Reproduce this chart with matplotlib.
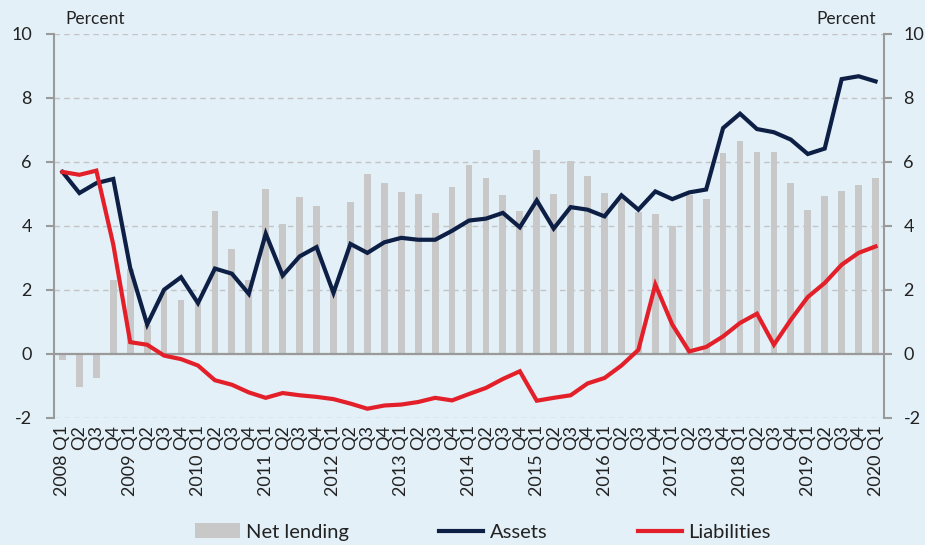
import matplotlib
matplotlib.use("Agg")
import matplotlib.pyplot as plt
import numpy as np

plt.rcParams['font.family'] = ['Lato', 'DejaVu Sans']

years = list(range(2008, 2021))
quarters = ["Q1", "Q2", "Q3", "Q4"]
labels = []
for y in years:
    for q in quarters:
        labels.append(f"{y} {q}" if q == "Q1" else q)
labels = labels[:49]

net_lending = [-0.18, -1.03, -0.74, 2.32, 2.67, 0.9, 1.96, 1.70, 1.6, 4.48,
               3.29, 2.32, 5.16, 4.07, 4.92, 4.64, 2.0, 4.75, 5.62, 5.34,
               5.05, 5.0, 4.41, 5.23, 5.91, 5.49, 4.96, 4.47, 6.36, 5.01,
               6.03, 5.57, 5.04, 4.9, 4.43, 4.39, 3.99, 4.96, 4.84, 6.28,
               6.67, 6.31, 6.31, 5.33, 4.49, 4.95, 5.10, 5.29, 5.51]

assets = [5.69, 5.03, 5.34, 5.47, 2.69, 0.92, 2.01, 2.40, 1.59, 2.67,
          2.51, 1.88, 3.76, 2.45, 3.05, 3.34, 1.91, 3.44, 3.16, 3.49,
          3.63, 3.57, 3.57, 3.85, 4.17, 4.23, 4.41, 3.96, 4.80, 3.92,
          4.59, 4.51, 4.30, 4.96, 4.51, 5.08, 4.84, 5.05, 5.14, 7.06,
          7.51, 7.03, 6.93, 6.70, 6.25, 6.42, 8.59, 8.68, 8.52]

liabilities = [5.69, 5.60, 5.73, 3.42, 0.37, 0.29, -0.05, -0.16, -0.36, -0.82,
               -0.96, -1.20, -1.37, -1.22, -1.29, -1.34, -1.41, -1.55, -1.71, -1.61,
               -1.58, -1.50, -1.37, -1.45, -1.25, -1.06, -0.78, -0.54, -1.46, -1.37,
               -1.29, -0.92, -0.75, -0.36, 0.13, 2.17, 0.92, 0.08, 0.22, 0.55,
               0.97, 1.26, 0.29, 1.07, 1.78, 2.22, 2.79, 3.16, 3.36]

bg = "#e3f0f7"
fig = plt.figure(figsize=(9.25, 5.45), dpi=100, facecolor=bg)
ax = fig.add_axes([54/925, 1-418/545, 830/925, 384/545])
ax.set_facecolor(bg)
x = np.arange(len(labels))

ax.set_ylim(-2, 10)
ax.set_xlim(-0.5, len(labels) - 0.5)
yt = [-2, 0, 2, 4, 6, 8, 10]
for v in yt:
    if v != 0:
        ax.axhline(v, color="#c4c4c4", lw=1.0, ls=(0, (4, 3)), zorder=0)

b = ax.bar(x, net_lending, width=0.4, color="#c8c8c8", zorder=1, label="Net lending")
ax.axhline(0, color="#9a9a9a", lw=1.6, zorder=2)
l1, = ax.plot(x, assets, color="#0d1f45", lw=3.0, zorder=3, label="Assets", solid_joinstyle="miter")
l2, = ax.plot(x, liabilities, color="#e3202a", lw=3.0, zorder=3, label="Liabilities", solid_joinstyle="miter")

for s in ["top", "bottom", "right"]:
    ax.spines[s].set_visible(False)
ax.spines["left"].set_color("#9a9a9a")
ax.spines["left"].set_linewidth(1.5)
ax.set_yticks(yt)
ax.set_yticklabels([str(v) for v in yt])
ax.tick_params(axis="y", length=6, width=1.5, color="#9a9a9a", labelsize=13, pad=10, labelcolor="#222222")
ax.set_xticks(x)
ax.set_xticklabels(labels, rotation=90, fontsize=13, color="#222222", va="top", ha="center")
ax.tick_params(axis="x", length=0, pad=5)

ax2 = ax.twinx()
ax2.set_ylim(-2, 10)
ax2.set_yticks(yt)
ax2.set_yticklabels([str(v) for v in yt])
for s in ["top", "bottom", "left"]:
    ax2.spines[s].set_visible(False)
ax2.spines["right"].set_color("#9a9a9a")
ax2.spines["right"].set_linewidth(1.5)
ax2.tick_params(axis="y", length=6, width=1.5, color="#9a9a9a", labelsize=13, pad=8, labelcolor="#222222")

fig.text(65/925, 1-19/545, "Percent", fontsize=12.5, color="#222222", va="center", ha="left")
fig.text(876/925, 1-19/545, "Percent", fontsize=12.5, color="#222222", va="center", ha="right")

fig.legend(handles=[b, l1, l2], labels=["Net lending", "Assets", "Liabilities"],
           loc="center", bbox_to_anchor=(0.522, 1-532/545), ncol=3, frameon=False,
           fontsize=14.5, handlelength=2.2, handletextpad=0.3, columnspacing=4.5,
           labelcolor="#222222")

fig.savefig("out.png", dpi=100, facecolor=bg)
